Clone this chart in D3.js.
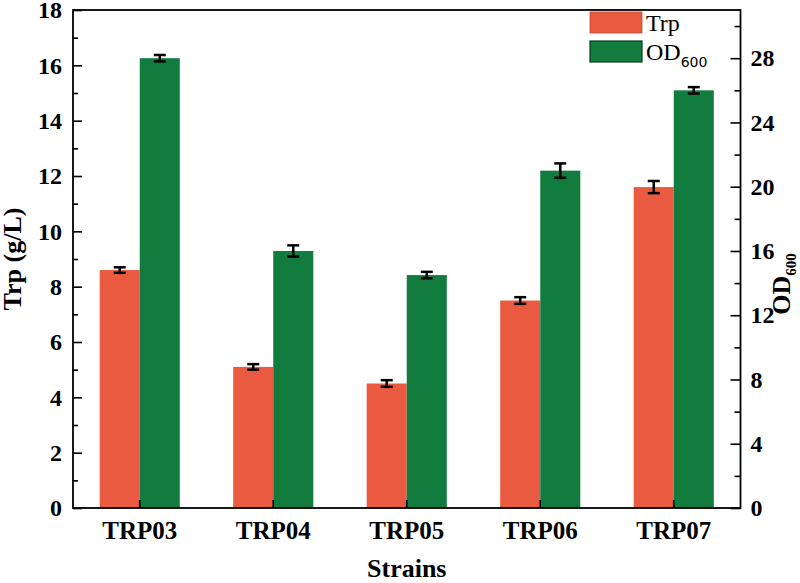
<!DOCTYPE html>
<html><head><meta charset="utf-8">
<script src="https://cdn.jsdelivr.net/npm/d3@7/dist/d3.min.js"></script>
<style>body{margin:0;background:#fff}svg{display:block}</style>
</head><body><svg id="c" width="800" height="583"></svg>
<script>
const categories = ["TRP03","TRP04","TRP05","TRP06","TRP07"];
const trpValues = [8.6, 5.1, 4.5, 7.5, 11.6];
const trpErrors = [0.1, 0.1, 0.12, 0.12, 0.22];
const odValues = [28.0, 16.0, 14.5, 21.0, 26.0];
const odErrors = [0.2, 0.35, 0.2, 0.45, 0.2];
const leftTicks = [0,2,4,6,8,10,12,14,16,18];
const leftMinor = [1,3,5,7,9,11,13,15,17];
const rightTicks = [0,4,8,12,16,20,24,28];
const rightMinor = [2,6,10,14,18,22,26,30];

const svg = d3.select("#c");
const L=73, R=740.5, T=10, B=508;
const font = "'Liberation Serif','Times New Roman',serif";
const red = "#E95A40", green = "#127C3F";

const yL = d3.scaleLinear().domain([0,18]).range([B,T]);
const yR = d3.scaleLinear().domain([0,31]).range([B,T]);
const x0 = d3.scaleBand().domain(categories).range([L,R]).paddingInner(0.4).paddingOuter(0.2);
const x1 = d3.scaleBand().domain(["trp","od"]).range([0,x0.bandwidth()]);

// bars
const g = svg.append("g");
categories.forEach((c,i)=>{
  g.append("rect").attr("x",x0(c)+x1("trp")).attr("width",x1.bandwidth())
   .attr("y",yL(trpValues[i])).attr("height",B-yL(trpValues[i])).attr("fill",red);
  g.append("rect").attr("x",x0(c)+x1("od")).attr("width",x1.bandwidth())
   .attr("y",yR(odValues[i])).attr("height",B-yR(odValues[i])).attr("fill",green);
});
// error bars
function err(cx, yScale, v, e){
  const y1=yScale(v+e), y2=yScale(v-e);
  g.append("line").attr("x1",cx).attr("x2",cx).attr("y1",y1).attr("y2",y2).attr("stroke","#000").attr("stroke-width",2.5);
  [y1,y2].forEach(yy=>g.append("line").attr("x1",cx-6).attr("x2",cx+6).attr("y1",yy).attr("y2",yy).attr("stroke","#000").attr("stroke-width",2.5));
}
categories.forEach((c,i)=>{
  err(x0(c)+x1("trp")+x1.bandwidth()/2, yL, trpValues[i], trpErrors[i]);
  err(x0(c)+x1("od")+x1.bandwidth()/2, yR, odValues[i], odErrors[i]);
});

// axes
function styleAxis(sel, fs){
  sel.select(".domain").remove();
  sel.selectAll("line").attr("stroke","#000").attr("stroke-width",1.6);
  sel.selectAll("text").attr("font-family",font).attr("font-weight","bold").attr("font-size",fs).attr("fill","#000");
}
const la = svg.append("g").attr("transform",`translate(${L},0)`)
  .call(d3.axisLeft(yL).tickValues(leftTicks).tickSize(-9).tickPadding(11).tickFormat(d3.format("d")));
styleAxis(la,24);
const lm = svg.append("g").attr("transform",`translate(${L},0)`)
  .call(d3.axisLeft(yL).tickValues(leftMinor).tickSize(-5).tickFormat(""));
styleAxis(lm,24);
const ra = svg.append("g").attr("transform",`translate(${R},0)`)
  .call(d3.axisRight(yR).tickValues(rightTicks).tickSize(-10).tickPadding(10).tickFormat(d3.format("d")));
styleAxis(ra,24);
const rm = svg.append("g").attr("transform",`translate(${R},0)`)
  .call(d3.axisRight(yR).tickValues(rightMinor).tickSize(-6).tickFormat(""));
styleAxis(rm,24);
const ba = svg.append("g").attr("transform",`translate(0,${B})`)
  .call(d3.axisBottom(x0).tickSize(-8).tickPadding(13));
styleAxis(ba,25);

// frame
svg.append("rect").attr("x",L).attr("y",T).attr("width",R-L).attr("height",B-T)
  .attr("fill","none").attr("stroke","#000").attr("stroke-width",1.8);

// axis titles
svg.append("text").attr("transform",`translate(21,${(T+B)/2}) rotate(-90)`).attr("text-anchor","middle")
  .attr("font-family",font).attr("font-weight","bold").attr("font-size",26).text("Trp (g/L)");
svg.append("text").attr("x",(L+R)/2).attr("y",577).attr("text-anchor","middle")
  .attr("font-family",font).attr("font-weight","bold").attr("font-size",26).text("Strains");
const rt = svg.append("text").attr("transform",`translate(790,${(T+B)/2+25}) rotate(-90)`).attr("text-anchor","middle")
  .attr("font-family",font).attr("font-weight","bold").attr("font-size",26);
rt.append("tspan").text("OD");
rt.append("tspan").attr("font-size",15).attr("dy",6).text("600");

// legend
const leg = svg.append("g");
leg.append("rect").attr("x",590).attr("y",12).attr("width",52).attr("height",21).attr("fill",red).attr("stroke","#c04a35").attr("stroke-width",0.8);
leg.append("rect").attr("x",590).attr("y",41).attr("width",52).attr("height",21).attr("fill",green).attr("stroke","#0a3a1e").attr("stroke-width",1.2);
leg.append("text").attr("x",646).attr("y",31).attr("font-family",font).attr("font-size",24).text("Trp");
const lt = leg.append("text").attr("x",646).attr("y",60).attr("font-family",font).attr("font-size",24);
lt.append("tspan").text("OD");
lt.append("tspan").attr("font-size",14).attr("dy",7).attr("font-family","'DejaVu Sans',sans-serif").text("600");
</script></body></html>
